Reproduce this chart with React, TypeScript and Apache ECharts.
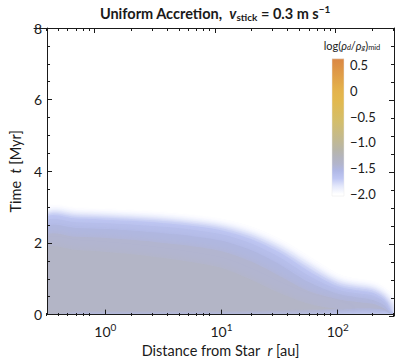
import React, { useEffect, useRef } from "react";
import * as echarts from "echarts";

// ---- data ----
const X_MIN_AU = 0.315;
const X_MAX_AU = 305;
const Y_MIN = 0;
const Y_MAX = 8;
const X_MAJOR_EXP = [0, 1, 2];

// radial sample points (au)
const R_AU = [0.315, 0.56, 1, 1.78, 3.16, 5.6, 10, 17.8, 31.6, 56, 100, 141, 200, 251, 282, 305];

// contour levels of log(rho_d/rho_g)_mid and their outlines t(r) [Myr]
const LEVELS = [-1.95, -1.87, -1.78, -1.7, -1.62, -1.52, -1.44, -1.36];
const UP_A = [2.83, 2.81, 2.78, 2.74, 2.69, 2.62, 2.51, 2.3, 1.95, 1.47, 0.97, 0.84, 0.77, 0.57, 0.28, 0];
const UP_B = [2.79, 2.77, 2.74, 2.7, 2.65, 2.57, 2.46, 2.24, 1.88, 1.39, 0.91, 0.8, 0.72, 0.52, 0.25, 0];
const UP_C = [2.75, 2.73, 2.7, 2.66, 2.61, 2.53, 2.41, 2.18, 1.81, 1.31, 0.85, 0.75, 0.67, 0.47, 0.21, 0];
const UP_D = [2.7, 2.68, 2.65, 2.61, 2.55, 2.47, 2.35, 2.11, 1.73, 1.22, 0.79, 0.69, 0.61, 0.42, 0.17, 0];
const UP_E = [2.6, 2.58, 2.55, 2.51, 2.45, 2.37, 2.24, 1.99, 1.6, 1.09, 0.7, 0.6, 0.53, 0.35, 0.12, 0];
const UP_F = [2.44, 2.42, 2.39, 2.34, 2.27, 2.19, 2.06, 1.8, 1.4, 0.91, 0.58, 0.49, 0.41, 0.26, 0.07, 0];
const UP_G = [2.2, 2.17, 2.14, 2.08, 2.0, 1.91, 1.77, 1.49, 1.08, 0.66, 0.43, 0.36, 0.3, 0.17, 0.04, 0];
const UP_H = [1.85, 1.8, 1.75, 1.68, 1.58, 1.46, 1.3, 0.98, 0.6, 0.3, 0.15, 0.1, 0.08, 0.05, 0.02, 0];
const LO_0 = [0, 0, 0, 0, 0, 0, 0, 0, 0, 0, 0, 0, 0, 0, 0, 0];
const LO_D = [0.02, 0.02, 0.02, 0.02, 0.02, 0.02, 0.02, 0.02, 0.02, 0.03, 0.04, 0.05, 0.05, 0.04, 0.02, 0];
const LO_E = [0.04, 0.04, 0.04, 0.04, 0.04, 0.04, 0.04, 0.04, 0.05, 0.06, 0.08, 0.09, 0.09, 0.07, 0.03, 0];
const LO_F = [0.06, 0.06, 0.06, 0.06, 0.06, 0.06, 0.06, 0.06, 0.07, 0.08, 0.11, 0.13, 0.13, 0.1, 0.04, 0];
const LO_G = [0.08, 0.08, 0.08, 0.08, 0.08, 0.08, 0.08, 0.09, 0.1, 0.12, 0.15, 0.17, 0.17, 0.13, 0.04, 0];
const LO_H = [0.1, 0.1, 0.1, 0.1, 0.1, 0.1, 0.1, 0.11, 0.12, 0.14, 0.15, 0.1, 0.08, 0.05, 0.02, 0];
const UPPERS = [UP_A, UP_B, UP_C, UP_D, UP_E, UP_F, UP_G, UP_H];
const LOWERS = [LO_0, LO_0, LO_0, LO_D, LO_E, LO_F, LO_G, LO_H];

// colour map
const CMAP_VALUES = [-2.0, -1.85, -1.7, -1.55, -1.42, -1.3, -1.15, -1.0, -0.6, -0.2, 0.0, 0.3, 0.62];
const CMAP_COLORS = ["#ffffff", "#e4e8fb", "#bfc7f3", "#b0b8e6", "#b2b5cc", "#b3b4bf", "#b7b5aa", "#bfb897", "#d3be6c", "#e2b94f", "#e4b34c", "#e09e48", "#da8744"];
const CB_TOP = 0.62;
const CB_BOTTOM = -2.04;

const FONT = "Lato, 'Open Sans', sans-serif";
const INK = "#1a1a1a";

function hexToRgb(h: string) {
  const n = parseInt(h.slice(1), 16);
  return [(n >> 16) & 255, (n >> 8) & 255, n & 255];
}
function colorAt(v: number) {
  if (v <= CMAP_VALUES[0]) return CMAP_COLORS[0];
  const last = CMAP_VALUES.length - 1;
  if (v >= CMAP_VALUES[last]) return CMAP_COLORS[last];
  for (let i = 0; i < last; i++) {
    const a = CMAP_VALUES[i], b = CMAP_VALUES[i + 1];
    if (v >= a && v <= b) {
      const f = (v - a) / (b - a);
      const ca = hexToRgb(CMAP_COLORS[i]), cb = hexToRgb(CMAP_COLORS[i + 1]);
      const c = ca.map((x, k) => Math.round(x + (cb[k] - x) * f));
      return `rgb(${c[0]},${c[1]},${c[2]})`;
    }
  }
  return CMAP_COLORS[last];
}

const lg = (v: number) => Math.log10(v);

export default function App() {
  const ref = useRef<HTMLDivElement>(null);
  useEffect(() => {
    if (!ref.current) return;
    const chart = echarts.init(ref.current, null, { renderer: "svg" });
    const XMIN = lg(X_MIN_AU);
    const XMAX = lg(X_MAX_AU);
    const minorX: number[] = [];
    for (let e = -1; e <= 2; e++) {
      for (let k = 2; k <= 9; k++) {
        const v = lg(k * Math.pow(10, e));
        if (v > XMIN && v < XMAX) minorX.push(v);
      }
    }
    const lx = R_AU.map(lg);

    const gridRect = { left: 34, top: 28, width: 360, height: 288 };
    const axisLineStyle = { color: INK, width: 1 };

    const contourSeries = LEVELS.map((lev, li) => ({
      type: "custom",
      xAxisIndex: 0,
      yAxisIndex: 0,
      clip: true,
      z: 1,
      silent: true,
      data: lx.map((x, i) => [x, UPPERS[li][i], LOWERS[li][i]]),
      renderItem: (params: any, api: any) => {
        if (params.dataIndex !== 0) return null;
        const up = UPPERS[li];
        const lo = LOWERS[li];
        const pts: number[][] = [];
        for (let i = 0; i < lx.length; i++) pts.push(api.coord([lx[i], up[i]]));
        for (let i = lx.length - 1; i >= 0; i--) {
          if (i === lx.length - 1 && lo[i] === up[i]) continue;
          pts.push(api.coord([lx[i], lo[i]]));
        }
        const c = colorAt(lev);
        return {
          type: "polygon",
          shape: { points: pts, smooth: 0.3 },
          style: { fill: c, stroke: null, shadowBlur: 8, shadowColor: c },
        };
      },
    }));

    const cbStops = CMAP_VALUES.map((v, i) => ({
      offset: Math.min(1, Math.max(0, (CB_TOP - v) / (CB_TOP - CB_BOTTOM))),
      color: CMAP_COLORS[i],
    })).sort((a, b) => a.offset - b.offset);

    const nameRich = {
      n: { fontSize: 14.5, fontFamily: FONT, color: INK },
      i: { fontSize: 14.5, fontFamily: FONT, fontStyle: "italic", color: INK },
    };

    const option: any = {
      animation: false,
      textStyle: { fontFamily: FONT },
      grid: [
        { ...gridRect },
        { ...gridRect },
        { ...gridRect },
        { ...gridRect },
        { left: 332, top: 65, width: 12, height: 129 },
      ],
      xAxis: [
        {
          gridIndex: 0, type: "value", min: XMIN, max: XMAX, position: "bottom", z: 10,
          axisLine: { show: true, onZero: false, lineStyle: axisLineStyle },
          axisTick: { show: true, inside: true, length: 5, customValues: X_MAJOR_EXP, lineStyle: axisLineStyle },
          axisLabel: {
            customValues: X_MAJOR_EXP, margin: 7, color: INK,
            formatter: (v: number) => `{b|10}{s|${Math.round(v)}}`,
            rich: {
              b: { fontSize: 14, fontFamily: FONT, color: INK },
              s: { fontSize: 10, fontFamily: FONT, color: INK, padding: [0, 0, 9, 0] },
            },
          },
          splitLine: { show: false },
          name: "{n|Distance from Star  }{i|r}{n| [au]}",
          nameLocation: "middle", nameGap: 28,
          nameTextStyle: { rich: nameRich },
        },
        {
          gridIndex: 1, type: "value", min: XMIN, max: XMAX, position: "bottom", z: 10,
          axisLine: { show: false, onZero: false },
          axisTick: { show: true, inside: true, length: 3, customValues: minorX, lineStyle: axisLineStyle },
          axisLabel: { show: false },
          splitLine: { show: false },
        },
        {
          gridIndex: 2, type: "value", min: XMIN, max: XMAX, position: "top", z: 10,
          axisLine: { show: true, onZero: false, lineStyle: axisLineStyle },
          axisTick: { show: true, inside: true, length: 5, customValues: X_MAJOR_EXP, lineStyle: axisLineStyle },
          axisLabel: { show: false },
          splitLine: { show: false },
        },
        {
          gridIndex: 3, type: "value", min: XMIN, max: XMAX, position: "top", z: 10,
          axisLine: { show: false, onZero: false },
          axisTick: { show: true, inside: true, length: 3, customValues: minorX, lineStyle: axisLineStyle },
          axisLabel: { show: false },
          splitLine: { show: false },
        },
        { gridIndex: 4, type: "value", min: 0, max: 1, show: false },
      ],
      yAxis: [
        {
          gridIndex: 0, type: "value", min: Y_MIN, max: Y_MAX, interval: 2, position: "left", z: 10,
          axisLine: { show: true, onZero: false, lineStyle: axisLineStyle },
          axisTick: { show: true, inside: true, length: 5, lineStyle: axisLineStyle },
          minorTick: { show: true, splitNumber: 4, length: 3, lineStyle: axisLineStyle },
          axisLabel: { margin: 5, fontSize: 14, color: INK, fontFamily: FONT },
          splitLine: { show: false },
          name: "{n|Time  }{i|t}{n| [Myr]}",
          nameLocation: "middle", nameGap: 20, nameRotate: 90,
          nameTextStyle: { rich: nameRich },
        },
        {
          gridIndex: 1, type: "value", min: Y_MIN, max: Y_MAX, interval: 2, position: "right", z: 10,
          axisLine: { show: true, onZero: false, lineStyle: axisLineStyle },
          axisTick: { show: true, inside: true, length: 5, lineStyle: axisLineStyle },
          minorTick: { show: true, splitNumber: 4, length: 3, lineStyle: axisLineStyle },
          axisLabel: { show: false },
          splitLine: { show: false },
        },
        { gridIndex: 2, type: "value", min: Y_MIN, max: Y_MAX, show: false },
        { gridIndex: 3, type: "value", min: Y_MIN, max: Y_MAX, show: false },
        {
          gridIndex: 4, type: "value", min: -2, max: 0.5, interval: 0.5, position: "right",
          axisLine: { show: false },
          axisTick: { show: false },
          splitLine: { show: false },
          axisLabel: {
            margin: 6, fontSize: 13, color: INK, fontFamily: FONT,
            formatter: (v: number) => {
              if (Math.abs(v) < 1e-9) return "0";
              const s = Math.abs(v).toFixed(1);
              return v < 0 ? "\u2212" + s : s;
            },
          },
        },
      ],
      series: [
        ...contourSeries,
        {
          type: "custom",
          xAxisIndex: 4,
          yAxisIndex: 4,
          silent: true,
          data: [[0, CB_TOP, CB_BOTTOM]],
          renderItem: (params: any, api: any) => {
            const p0 = api.coord([0, CB_TOP]);
            const p1 = api.coord([1, CB_BOTTOM]);
            return {
              type: "rect",
              shape: { x: p0[0], y: p0[1], width: p1[0] - p0[0], height: p1[1] - p0[1] },
              style: {
                fill: new echarts.graphic.LinearGradient(0, 0, 0, 1, cbStops),
                stroke: "#e8e8e8",
                lineWidth: 0.5,
              },
            };
          },
        },
      ],
      graphic: [
        {
          type: "text",
          x: 215,
          y: 13,
          style: {
            text: "{b|Uniform Accretion,  }{bi|v}{sub|stick}{b| = 0.3 m s}{sup|\u22121}",
            align: "center",
            verticalAlign: "middle",
            rich: {
              b: { fontSize: 14.5, fontWeight: "bold", fontFamily: FONT, fill: INK },
              bi: { fontSize: 14.5, fontWeight: "bold", fontStyle: "italic", fontFamily: FONT, fill: INK },
              sub: { fontSize: 10, fontWeight: "bold", fontFamily: FONT, fill: INK, padding: [7, 0, 0, 0] },
              sup: { fontSize: 10, fontWeight: "bold", fontFamily: FONT, fill: INK, padding: [0, 0, 9, 0] },
            },
          },
        },
        {
          type: "text",
          x: 352,
          y: 45,
          style: {
            text: "{n|log(}{i|\u03c1}{si|d}{n|/}{i|\u03c1}{si|g}{n|)}{s|mid}",
            align: "center",
            verticalAlign: "middle",
            rich: {
              n: { fontSize: 11, fontFamily: FONT, fill: INK },
              i: { fontSize: 11, fontStyle: "italic", fontFamily: FONT, fill: INK },
              si: { fontSize: 7.5, fontStyle: "italic", fontFamily: FONT, fill: INK, padding: [5, 0, 0, 0] },
              s: { fontSize: 7.5, fontFamily: FONT, fill: INK, padding: [5, 0, 0, 0] },
            },
          },
        },
      ],
    };
    chart.setOption(option);
    return () => chart.dispose();
  }, []);
  return <div ref={ref} style={{ width: 399, height: 363, position: "absolute", left: 0, top: 0 }} />;
}
